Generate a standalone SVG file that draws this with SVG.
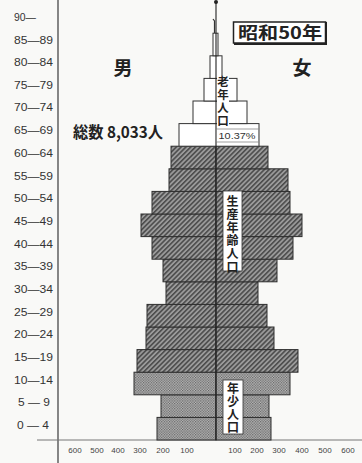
<svg xmlns="http://www.w3.org/2000/svg" width="362" height="463" viewBox="0 0 362 463">
<defs>
<pattern id="hatch" patternUnits="userSpaceOnUse" width="3.4" height="3.4" patternTransform="rotate(45)">
<rect width="3.4" height="3.4" fill="#9a9a9a"/>
<line x1="0.8" y1="0" x2="0.8" y2="3.4" stroke="#3a3a3a" stroke-width="1.3"/>
</pattern>
<pattern id="dots" patternUnits="userSpaceOnUse" width="2.6" height="2.6">
<rect width="2.6" height="2.6" fill="#bdbdbd"/>
<rect x="0" y="0" width="1.2" height="1.2" fill="#5a5a5a"/>
<rect x="1.3" y="1.3" width="1.2" height="1.2" fill="#5a5a5a"/>
</pattern>
<style>
.age{font-family:"Liberation Sans","Noto Sans",sans-serif;font-size:11px;fill:#333;}
.tick{font-family:"Liberation Sans","Noto Sans",sans-serif;font-size:8px;fill:#444;text-anchor:middle;}
.cjk{font-family:"Noto Sans CJK JP","Noto Sans CJK SC",sans-serif;font-weight:bold;fill:#222;}
.prod{fill:url(#hatch);stroke:#2e2e2e;stroke-width:1;}
.young{fill:url(#dots);stroke:#2e2e2e;stroke-width:1;}
.old{fill:#ffffff;stroke:#333;stroke-width:1;}
.vt{font-family:"Noto Sans CJK JP","Noto Sans CJK SC",sans-serif;font-weight:bold;fill:#222;writing-mode:vertical-rl;}
</style>
</defs>
<rect width="362" height="463" fill="#f9f9f7"/>

<g id="axes">
<line x1="58" y1="0" x2="58" y2="463" stroke="#555" stroke-width="1.4"/>
<line x1="37" y1="440" x2="362" y2="440" stroke="#777" stroke-width="1"/>
</g>

<g id="age-labels">
<text class="age" x="14" y="21" textLength="22" lengthAdjust="spacingAndGlyphs">90—</text>
<text class="age" x="14" y="44" textLength="39" lengthAdjust="spacingAndGlyphs">85—89</text>
<text class="age" x="14" y="66" textLength="39" lengthAdjust="spacingAndGlyphs">80—84</text>
<text class="age" x="14" y="89" textLength="39" lengthAdjust="spacingAndGlyphs">75—79</text>
<text class="age" x="14" y="111" textLength="39" lengthAdjust="spacingAndGlyphs">70—74</text>
<text class="age" x="14" y="134" textLength="39" lengthAdjust="spacingAndGlyphs">65—69</text>
<text class="age" x="14" y="157" textLength="39" lengthAdjust="spacingAndGlyphs">60—64</text>
<text class="age" x="14" y="180" textLength="39" lengthAdjust="spacingAndGlyphs">55—59</text>
<text class="age" x="14" y="202" textLength="39" lengthAdjust="spacingAndGlyphs">50—54</text>
<text class="age" x="14" y="225" textLength="39" lengthAdjust="spacingAndGlyphs">45—49</text>
<text class="age" x="14" y="248" textLength="39" lengthAdjust="spacingAndGlyphs">40—44</text>
<text class="age" x="14" y="270" textLength="39" lengthAdjust="spacingAndGlyphs">35—39</text>
<text class="age" x="14" y="293" textLength="39" lengthAdjust="spacingAndGlyphs">30—34</text>
<text class="age" x="14" y="316" textLength="39" lengthAdjust="spacingAndGlyphs">25—29</text>
<text class="age" x="14" y="338" textLength="39" lengthAdjust="spacingAndGlyphs">20—24</text>
<text class="age" x="14" y="361" textLength="39" lengthAdjust="spacingAndGlyphs">15—19</text>
<text class="age" x="14" y="384" textLength="39" lengthAdjust="spacingAndGlyphs">10—14</text>
<text class="age" x="18" y="406" textLength="32" lengthAdjust="spacingAndGlyphs">5 — 9</text>
<text class="age" x="17" y="429" textLength="32" lengthAdjust="spacingAndGlyphs">0 — 4</text>
</g>

<g id="tick-labels">
<text class="tick" x="75" y="453">600</text>
<text class="tick" x="97" y="453">500</text>
<text class="tick" x="118" y="453">400</text>
<text class="tick" x="140" y="453">300</text>
<text class="tick" x="163" y="453">200</text>
<text class="tick" x="187" y="453">100</text>
<text class="tick" x="235" y="453">100</text>
<text class="tick" x="257" y="453">200</text>
<text class="tick" x="279" y="453">300</text>
<text class="tick" x="302" y="453">400</text>
<text class="tick" x="325" y="453">500</text>
<text class="tick" x="348" y="453">600</text>
</g>

<g id="young-bars">
<rect class="young" x="157" y="417.4" width="59" height="22.6"/>
<rect class="young" x="216" y="417.4" width="55" height="22.6"/>
<rect class="young" x="161" y="394.8" width="55" height="22.6"/>
<rect class="young" x="216" y="394.8" width="53" height="22.6"/>
<rect class="young" x="134" y="372.2" width="82" height="22.6"/>
<rect class="young" x="216" y="372.2" width="74" height="22.6"/>
</g>

<g id="productive-bars">
<rect class="prod" x="137" y="349.6" width="79" height="22.6"/>
<rect class="prod" x="216" y="349.6" width="82" height="22.6"/>
<rect class="prod" x="146" y="327" width="70" height="22.6"/>
<rect class="prod" x="216" y="327" width="58" height="22.6"/>
<rect class="prod" x="147" y="304.4" width="69" height="22.6"/>
<rect class="prod" x="216" y="304.4" width="51" height="22.6"/>
<rect class="prod" x="166" y="281.8" width="50" height="22.6"/>
<rect class="prod" x="216" y="281.8" width="42" height="22.6"/>
<rect class="prod" x="163" y="259.2" width="53" height="22.6"/>
<rect class="prod" x="216" y="259.2" width="61" height="22.6"/>
<rect class="prod" x="152" y="236.6" width="64" height="22.6"/>
<rect class="prod" x="216" y="236.6" width="77" height="22.6"/>
<rect class="prod" x="141" y="214" width="75" height="22.6"/>
<rect class="prod" x="216" y="214" width="86" height="22.6"/>
<rect class="prod" x="152" y="191.4" width="64" height="22.6"/>
<rect class="prod" x="216" y="191.4" width="74" height="22.6"/>
<rect class="prod" x="169" y="168.8" width="47" height="22.6"/>
<rect class="prod" x="216" y="168.8" width="72" height="22.6"/>
<rect class="prod" x="171" y="146.2" width="45" height="22.6"/>
<rect class="prod" x="216" y="146.2" width="52" height="22.6"/>
</g>

<g id="old-bars">
<rect class="old" x="179" y="123.6" width="80" height="22.6"/>
<rect class="old" x="193" y="101" width="54" height="22.6"/>
<rect class="old" x="204" y="78.4" width="33" height="22.6"/>
<rect class="old" x="210" y="55.8" width="12" height="22.6"/>
<rect class="old" x="213" y="33.2" width="5" height="22.6"/>
<path d="M214.5 33 L214.5 21 L213 19" fill="none" stroke="#333" stroke-width="1.2"/>
</g>

<g id="center-axis">
<line x1="216" y1="2" x2="216" y2="440" stroke="#222" stroke-width="1.1"/>
<circle cx="216" cy="2" r="2" fill="#222"/>
</g>

<g id="label-old">
<rect x="217" y="76" width="12" height="51" fill="#ffffff"/>
<text class="vt" font-size="11.5" x="223" y="76" letter-spacing="1.3">老年人口</text>
</g>

<g id="label-ratio">
<rect x="216.5" y="129" width="42" height="13" fill="#ffffff" stroke="#777" stroke-width="0.7"/>
<text x="237" y="139" font-family="Liberation Sans, sans-serif" font-size="9.5" fill="#333" text-anchor="middle" textLength="37" lengthAdjust="spacingAndGlyphs">10.37%</text>
</g>

<g id="label-productive">
<rect x="223" y="191" width="19" height="80" fill="#ffffff" stroke="#333" stroke-width="0.8"/>
<text class="vt" font-size="12" x="232.5" y="195" letter-spacing="1.2">生産年齢人口</text>
</g>

<g id="label-young">
<rect x="223" y="380" width="20" height="54" fill="#ffffff" stroke="#333" stroke-width="0.8"/>
<text class="vt" font-size="12" x="233" y="382" letter-spacing="1">年少人口</text>
</g>

<g id="label-male">
<text class="cjk" font-size="19" x="123" y="75" text-anchor="middle">男</text>
</g>
<g id="label-female">
<text class="cjk" font-size="19" x="302" y="75" text-anchor="middle">女</text>
</g>

<g id="label-total">
<text class="cjk" font-size="16" x="73" y="138" textLength="90" lengthAdjust="spacingAndGlyphs">総数 8,033人</text>
</g>

<g id="label-year">
<rect x="233.5" y="22" width="92" height="21" fill="#ffffff" stroke="#222" stroke-width="1.5"/>
<line x1="326" y1="22" x2="326" y2="44" stroke="#222" stroke-width="2"/>
<line x1="234" y1="44" x2="327" y2="44" stroke="#222" stroke-width="2"/>
<text class="cjk" font-size="17" x="280" y="39" text-anchor="middle" textLength="84" lengthAdjust="spacingAndGlyphs">昭和50年</text>
</g>
</svg>
